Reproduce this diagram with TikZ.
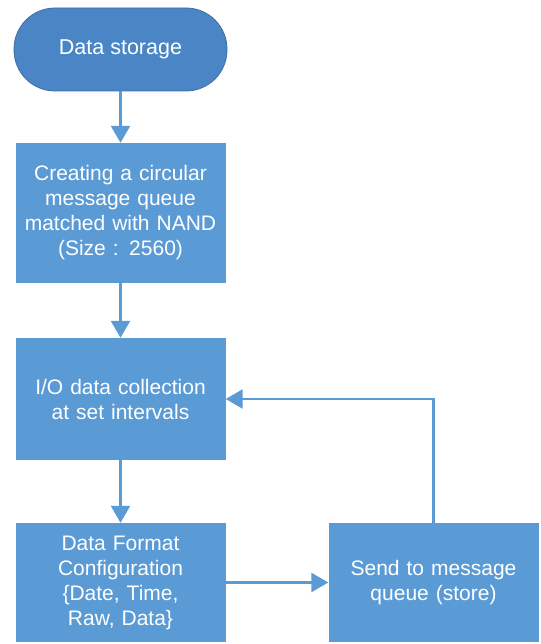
\documentclass[tikz,border=0pt]{standalone}
\usepackage{fontspec}
\setmainfont{Liberation Sans}
\usepackage{tikz}
\usetikzlibrary{shapes.geometric, arrows.meta, positioning}
\definecolor{boxblue}{RGB}{91,155,213}
\definecolor{termblue}{RGB}{74,134,198}
\definecolor{termedge}{RGB}{64,110,162}
\tikzstyle{startstop} = [rectangle, rounded corners=41pt, minimum width=213pt, minimum height=83pt, align=center, draw=termedge, line width=0.8pt, fill=termblue, text=white, font=\fontsize{21.5}{25}\selectfont]
\tikzstyle{process} = [rectangle, text width=210pt, inner sep=0pt, minimum height=120pt, align=center, fill=boxblue, text=white, font=\fontsize{21}{25}\selectfont]
\tikzstyle{flow} = [line width=2.5pt, draw=boxblue, -{Triangle[width=19pt,length=17pt]}]

\begin{document}
\begin{tikzpicture}

            \useasboundingbox (0,0) rectangle (540pt,-644pt);

            % Place nodes
            \node (start) [startstop] at (120.5pt,-49.5pt) {Data storage};
            \node (queue) [process, below of=start, node distance=163.5pt, minimum height=140pt] {Creating a circular\\ message queue\\ matched with NAND\\ (Size : 2560)};
            \node (collect) [process, below of=queue, node distance=186pt, minimum height=122pt] {I/O data collection\\ at set intervals};
            \node (format) [process, below of=collect, node distance=183.5pt, minimum height=119pt] {Data Format\\ Configuration\\ \{Date, Time,\\ Raw, Data\}};
            \node (send) [process, right of=format, node distance=313pt, minimum height=119pt] {Send to message\\ queue (store)};

            % Draw edges
            \draw [flow] (start) -- (queue);
            \draw [flow] (queue) -- (collect);
            \draw [flow] (collect) -- (format);
            \draw [flow] (format) -- (send);
            \draw [flow] (send) |- (collect);

        \end{tikzpicture}
\end{document}
